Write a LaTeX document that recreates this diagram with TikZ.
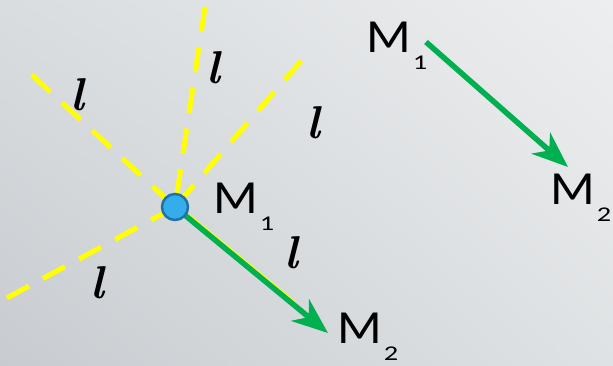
\documentclass[tikz,border=0pt]{standalone}
\usepackage{fontspec}
\setmainfont{Carlito}
\newfontfamily\lfont{Latin Modern Roman}
\usetikzlibrary{arrows.meta,shadings}
\definecolor{bgTL}{HTML}{D9DDE0}
\definecolor{bgBL}{HTML}{C8CCD0}
\definecolor{bgTR}{HTML}{EDEEEF}
\definecolor{bgBR}{HTML}{DFE2E4}
\definecolor{lineyellow}{HTML}{FFFF00}
\definecolor{arrowgreen}{HTML}{00B050}
\definecolor{ptfill}{HTML}{33AEEA}
\definecolor{ptdraw}{HTML}{2270A8}
\newcommand{\Mlab}[1]{\scalebox{1.1}[1]{M}\hspace{2pt}\raisebox{-17pt}{\fontsize{21}{22}\selectfont\scalebox{1.35}[1]{#1}}}
\tikzset{
  guide/.style={draw=lineyellow, line width=5pt, dash pattern=on 25pt off 16pt},
  motion/.style={draw=arrowgreen, line width=5.5pt, -{Stealth[length=36pt,width=28pt,inset=11pt]}},
  mlabel/.style={inner sep=0pt, anchor=base west, font=\fontsize{47.5}{50}\selectfont},
  llabel/.style={inner sep=0pt, anchor=base, font=\lfont\bfseries\itshape\fontsize{46}{48}\selectfont},
  pointdot/.style={circle, fill=ptfill, draw=ptdraw, line width=2.5pt, minimum size=26pt, inner sep=0pt}
}
\begin{document}
\begin{tikzpicture}[x=1pt,y=-1pt]
\useasboundingbox (0,0) rectangle (613,365);
\shade[upper left=bgTL, lower left=bgBL, upper right=bgTR, lower right=bgBR] (0,0) rectangle (613,365);
% point position
\coordinate (P) at (175,207);
\coordinate (e1) at (32,75);
\coordinate (e2) at (205,7);
\coordinate (e3) at (301,61);
\coordinate (e4) at (7,298);
\coordinate (e5) at (293,304);
\draw[guide] (e1) -- (P);
\draw[guide] (e2) -- (P);
\draw[guide] (e3) -- (P);
\draw[guide] (e4) -- (P);
\draw[draw=lineyellow, line width=2pt] ([shift={(1.75,-2.1)}]P) -- ([shift={(1.75,-2.1)}]e5);
\coordinate (A1end) at (328,333);
\draw[motion] (P) -- (A1end);
\node[pointdot] (pt) at (P) {};
% labels l
\node[llabel] (l1) at (77,110) {l};
\node[llabel] (l2) at (213,83) {l};
\node[llabel] (l3) at (313,138) {l};
\node[llabel] (l4) at (291,268) {l};
\node[llabel] (l5) at (97,298) {l};
% M labels
\node[mlabel] (m1a) at (213,213) {\Mlab{1}};
\node[mlabel] (m2a) at (337,343) {\Mlab{2}};
\node[mlabel] (m1b) at (366,52) {\Mlab{1}};
\node[mlabel] (m2b) at (550,204) {\Mlab{2}};
% right arrow
\coordinate (B1) at (426,42);
\coordinate (B2) at (568,167);
\draw[motion] (B1) -- (B2);
\end{tikzpicture}
\end{document}
